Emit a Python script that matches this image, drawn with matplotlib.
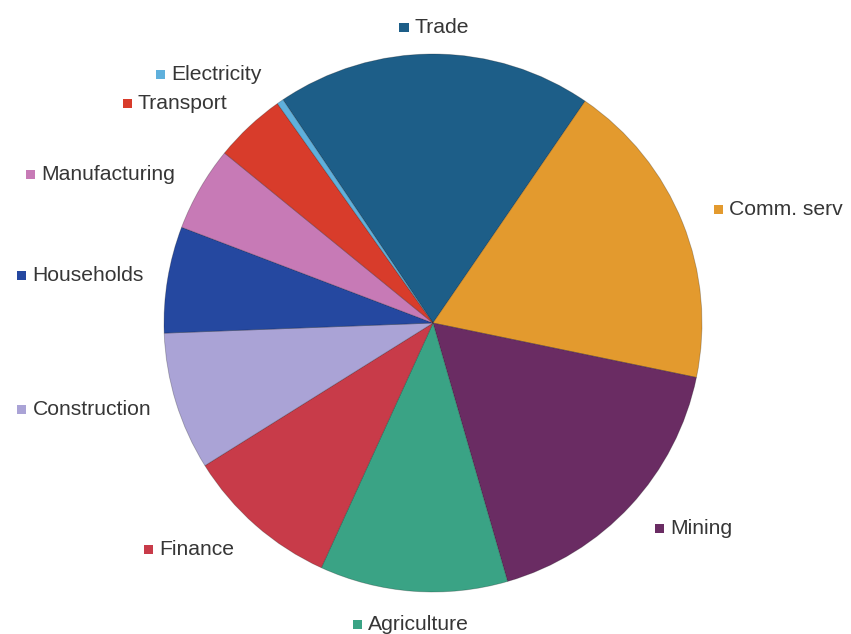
import numpy as np
import matplotlib
matplotlib.use("Agg")
import matplotlib.pyplot as plt
from matplotlib.offsetbox import AnnotationBbox, DrawingArea, HPacker, TextArea
from matplotlib.patches import Rectangle

# share of output by sector (%), clockwise from Trade
sectors = ["Trade", "Comm. serv", "Mining", "Agriculture", "Finance",
           "Construction", "Households", "Manufacturing", "Transport", "Electricity"]
shares = [19.0, 18.7, 17.3, 11.3, 9.3, 8.3, 6.4, 5.1, 4.3, 0.4]
colors = ["#1d5e88", "#e39a2e", "#6a2c63", "#3aa385", "#c83b49",
          "#aaa3d6", "#2548a0", "#c77ab6", "#d83c2b", "#5fb0dc"]

fig = plt.figure(figsize=(8.51, 6.34), dpi=100)
fig.patch.set_facecolor("white")
ax = fig.add_axes([164 / 851, 42 / 634, 538 / 851, 538 / 634])

wedges, _ = ax.pie(shares, colors=colors, startangle=123.9, counterclock=False,
                   radius=1.0,
                   wedgeprops=dict(edgecolor=(0, 0, 0, 0.25), linewidth=0.6))
ax.set_xlim(-1, 1)
ax.set_ylim(-1, 1)
ax.axis("off")

# outside labels with a small colour key in front of each name
for w, name, col in zip(wedges, sectors, colors):
    mid = np.deg2rad((w.theta1 + w.theta2) / 2)
    cx, cy = np.cos(mid), np.sin(mid)
    # left-hand labels sit a little tighter to the rim
    r = 1.125 - 0.035 * max(0.0, -cx) ** 4
    if abs(cx) < 0.2:
        ha = 0.5
        r = 1.10 if cy > 0 else 1.125
    elif cx > 0:
        ha = 0.0
    else:
        ha = 1.0
    key = DrawingArea(6.5, 6.5)
    key.add_artist(Rectangle((0, 0), 6.5, 6.5, facecolor=col, edgecolor="none"))
    txt = TextArea(name, textprops=dict(fontsize=15.2, color="#363636",
                                        family="Liberation Sans"))
    box = HPacker(children=[key, txt], align="center", pad=0, sep=4.5)
    ab = AnnotationBbox(box, (r * cx, r * cy), xycoords="data",
                        box_alignment=(ha, 0.5), frameon=False, pad=0,
                        annotation_clip=False)
    ax.add_artist(ab)

fig.savefig("out.png", dpi=100, facecolor="white")
